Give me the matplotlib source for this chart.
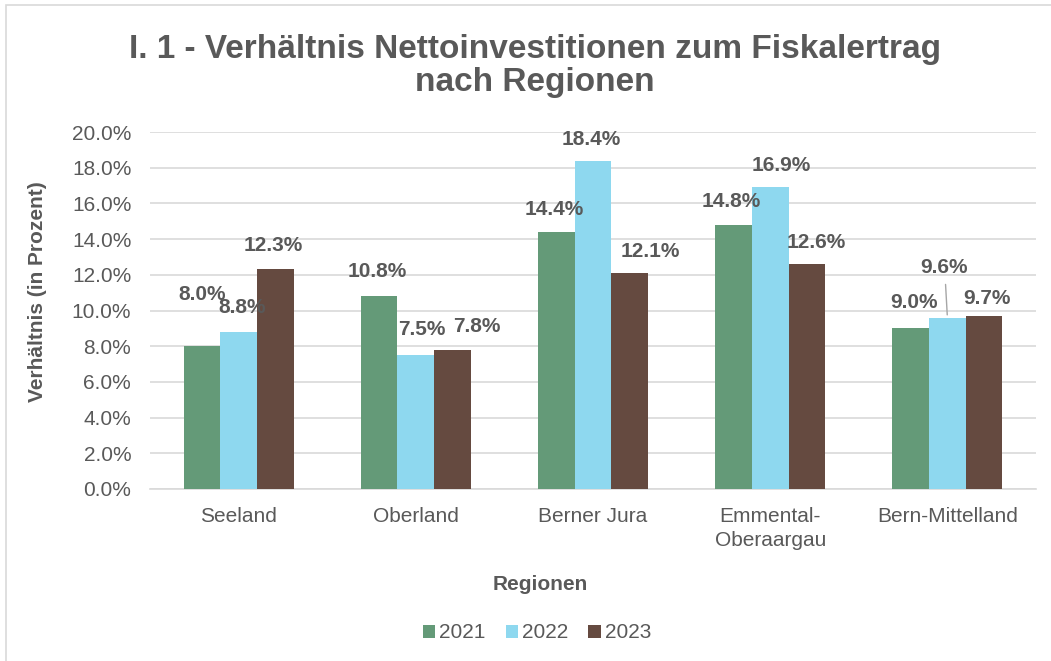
import matplotlib
matplotlib.use("Agg")
import matplotlib.pyplot as plt
import numpy as np
from matplotlib.patches import Rectangle

plt.rcParams['font.family'] = ['Liberation Sans', 'DejaVu Sans']

regions = ["Seeland", "Oberland", "Berner Jura", "Emmental-\nOberaargau", "Bern-Mittelland"]
years = ["2021", "2022", "2023"]
v2021 = [8.0, 10.8, 14.4, 14.8, 9.0]
v2022 = [8.8, 7.5, 18.4, 16.9, 9.6]
v2023 = [12.3, 7.8, 12.1, 12.6, 9.7]
series = [v2021, v2022, v2023]
colors = ["#649A78", "#8ED8EF", "#654A40"]

# label offsets in pixels (dx, dy) from bar top to label center
offsets = [
    [(0, 52), (-2, 25), (-2, 22), (-2, 23), (3, 26)],
    [(4, 24), (6, 26), (-2, 21), (11, 22), (-3, 50)],
    [(-2, 24), (24, 23), (21, 22), (9, 22), (3, 17)],
]

txt = "#595959"
fs = 15
fig = plt.figure(figsize=(10.51, 6.61), dpi=100)
fig.patch.set_facecolor("white")
fig.add_artist(Rectangle((6/1051, -0.1), 1.2, 1.1 - 5/661, transform=fig.transFigure,
                         fill=False, edgecolor="#D9D9D9", linewidth=1.2))

ax = fig.add_axes([150/1051, 1-489/661, 886/1051, (489-132)/661])
x = np.arange(len(regions))
w = 0.207
for i, (vals, c, yr) in enumerate(zip(series, colors, years)):
    pos = x + (i - 1) * w
    ax.bar(pos, vals, width=w, color=c, label=yr, zorder=3)
    for j, (p, v) in enumerate(zip(pos, vals)):
        dx, dy = offsets[i][j]
        ax.annotate(f"{v:.1f}%", xy=(p, v), xytext=(dx, dy), textcoords="offset pixels",
                    ha="center", va="center", fontsize=fs, fontweight="bold", color=txt, zorder=5)
        if i == 1 and j == 4:
            ax.annotate("", xy=(p, v), xytext=(dx + 1, dy - 14), textcoords="offset pixels",
                        arrowprops=dict(arrowstyle="-", color="#A6A6A6", lw=1), zorder=4)

ax.set_xlim(-0.5, len(regions) - 0.5)
ax.set_ylim(0, 20)
ax.set_yticks(np.arange(0, 20.1, 2))
ax.set_yticklabels([f"{t:.1f}%" for t in np.arange(0, 20.1, 2)])
ax.set_xticks(x)
ax.set_xticklabels(regions, linespacing=1.3)
ax.tick_params(axis="both", length=0, labelsize=fs, colors=txt)
ax.tick_params(axis="y", pad=13.5)
ax.tick_params(axis="x", pad=13)
ax.grid(axis="y", color="#D9D9D9", linewidth=1.2, zorder=0)
for s in ["top", "right", "left"]:
    ax.spines[s].set_visible(False)
ax.spines["bottom"].set_color("#D9D9D9")
ax.spines["bottom"].set_linewidth(1.2)

fig.text(535/1051, 1-66/661, "I. 1 - Verhältnis Nettoinvestitionen zum Fiskalertrag\nnach Regionen",
         ha="center", va="center", fontsize=24, fontweight="bold", color=txt, linespacing=1.05)
fig.text(38/1051, 1-292/661, "Verhältnis (in Prozent)", rotation=90, ha="center", va="center",
         fontsize=fs, fontweight="bold", color=txt)
fig.text(540/1051, 1-585/661, "Regionen", ha="center", va="center",
         fontsize=fs, fontweight="bold", color=txt)

leg = fig.legend(loc="center", bbox_to_anchor=(537/1051, 1-633/661), ncol=3, frameon=False,
                 fontsize=fs, handlelength=0.6, handleheight=0.6, handletextpad=0.2,
                 columnspacing=0.95, borderpad=0.2)
for t in leg.get_texts():
    t.set_color(txt)

fig.savefig("out.png", dpi=100)
